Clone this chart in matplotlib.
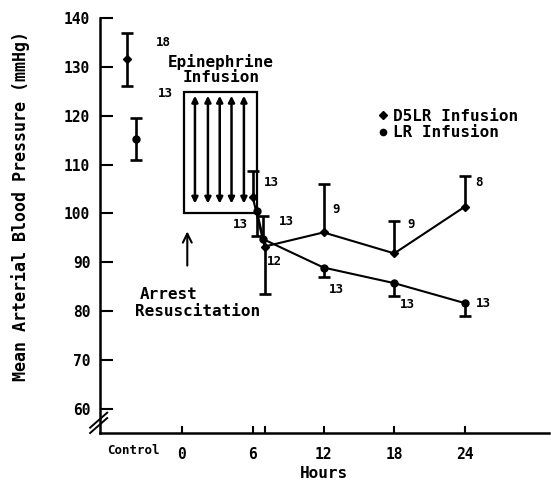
import matplotlib
matplotlib.use("Agg")
import matplotlib.pyplot as plt
import numpy as np
from matplotlib.patches import Rectangle
from matplotlib.lines import Line2D

plt.rcParams['font.family'] = ['DejaVu Sans Mono']
plt.rcParams['font.weight'] = 'bold'

# data
control_x = [-4.65, -3.9]
control_map = [131.6, 115.3]
control_lo = [5.5, 4.4]
control_hi = [5.3, 4.2]
control_n = ['18', '13']

d5_hours = [6, 7, 12, 18, 24]
d5_map = [103.3, 93.2, 96.1, 91.8, 101.4]
d5_lo = [0, 9.8, 0, 0, 0]
d5_hi = [5.3, 0, 9.9, 6.6, 6.2]
d5_n = ['13', '12', '9', '9', '8']

lr_hours = [6.35, 6.9, 12, 18, 24]
lr_map = [100.4, 94.7, 88.9, 85.7, 81.6]
lr_lo = [5.1, 0, 2.0, 2.7, 2.7]
lr_hi = [0, 4.7, 0, 0, 0]
lr_n = ['13', '13', '13', '13', '13']

# label offsets in pixels
ctrl_off = [(36, 17), (29, 45)]
d5_off = [(19, 15), (10, -15), (13, 23), (17, 29), (14, 24)]
lr_off = [(-17, -13), (23, 18), (13, -22), (13, -21), (18, 0)]

epi_arrows = [1.1, 2.2, 3.2, 4.2, 5.25]

fig = plt.figure(figsize=(5.51, 4.90), dpi=100)
ax = fig.add_axes([0.1815, 0.1163, 0.8145, 0.8467])


def bars(x, y, lo, hi):
    # error bars with a cap only at the far end
    x = np.asarray(x, float)
    y = np.asarray(y, float)
    lo = np.asarray(lo, float)
    hi = np.asarray(hi, float)
    ax.vlines(x, y - lo, y + hi, color='k', lw=1.9)
    ax.plot(x[lo > 0], (y - lo)[lo > 0], '_', color='k', ms=8, mew=1.9)
    ax.plot(x[hi > 0], (y + hi)[hi > 0], '_', color='k', ms=8, mew=1.9)


# control values
bars(control_x, control_map, control_lo, control_hi)
ax.plot(control_x[:1], control_map[:1], 'D', color='k', ms=4.5)
ax.plot(control_x[1:], control_map[1:], 'o', color='k', ms=5)

# series
bars(d5_hours, d5_map, d5_lo, d5_hi)
bars(lr_hours, lr_map, lr_lo, lr_hi)
ax.plot(d5_hours, d5_map, '-D', color='k', ms=4.5, lw=1.5)
ax.plot(lr_hours, lr_map, '-o', color='k', ms=5, lw=1.5)

# n labels
for x, y, n, off in zip(control_x, control_map, control_n, ctrl_off):
    ax.annotate(n, (x, y), xytext=off, textcoords='offset pixels',
                ha='center', va='center', fontsize=9)
for x, y, n, off in zip(d5_hours, d5_map, d5_n, d5_off):
    ax.annotate(n, (x, y), xytext=off, textcoords='offset pixels',
                ha='center', va='center', fontsize=9)
for x, y, n, off in zip(lr_hours, lr_map, lr_n, lr_off):
    ax.annotate(n, (x, y), xytext=off, textcoords='offset pixels',
                ha='center', va='center', fontsize=9)

# epinephrine box
ax.add_patch(Rectangle((0.15, 100), 6.2, 24.8, fill=False, lw=1.6, ec='k'))
for x in epi_arrows:
    ax.annotate('', xy=(x, 124.1), xytext=(x, 102.0),
                arrowprops=dict(arrowstyle='<|-|>', color='k', lw=1.8,
                                mutation_scale=9, shrinkA=0, shrinkB=0))
ax.text(3.3, 129.4, 'Epinephrine\nInfusion', ha='center', va='center',
        fontsize=11.5, linespacing=1.0)

# arrest arrow
ax.annotate('', xy=(0.45, 96.3), xytext=(0.45, 89.3),
            arrowprops=dict(arrowstyle='->', color='k', lw=1.5,
                            mutation_scale=16, shrinkA=0, shrinkB=0))
ax.text(-3.55, 83.3, 'Arrest', ha='left', va='center', fontsize=11.5)
ax.text(-4.0, 79.8, 'Resuscitation', ha='left', va='center', fontsize=11.5)

handles = [Line2D([], [], ls='none', marker='D', color='k', ms=4),
           Line2D([], [], ls='none', marker='o', color='k', ms=4.5)]
ax.legend(handles, ['D5LR Infusion', 'LR Infusion'], loc='upper left',
          bbox_to_anchor=(0.62, 0.782), frameon=False,
          handlelength=0.6, handletextpad=0.3, labelspacing=0.1,
          borderpad=0, borderaxespad=0,
          prop={'weight': 'bold', 'size': 11.5})

ax.set_xlim(-6.95, 31.1)
ax.set_ylim(55, 140)
ax.set_yticks([60, 70, 80, 90, 100, 110, 120, 130, 140])
ax.set_xticks([0, 6, 7, 12, 18, 24])
ax.set_xticklabels(['0', '6', '', '12', '18', '24'])
ax.tick_params(axis='y', direction='in', length=9, width=1.5, pad=7, labelsize=10.5)
ax.tick_params(axis='x', direction='in', length=5, width=1.5, pad=10, labelsize=10.5)

for s in ['top', 'right']:
    ax.spines[s].set_visible(False)
for s in ['left', 'bottom']:
    ax.spines[s].set_linewidth(1.8)

# axis break marks
for dy in [0.0, 0.013]:
    ax.plot([-0.022, 0.016], [0.0 + dy, 0.036 + dy], transform=ax.transAxes,
            color='k', lw=1.4, clip_on=False)

ax.text(-4.15, -0.041, 'Control', transform=ax.get_xaxis_transform(),
        ha='center', va='center', fontsize=9)
ax.set_xlabel('Hours', fontsize=11.5, fontweight='bold', labelpad=3)
ax.set_ylabel('Mean Arterial Blood Pressure (mmHg)', fontsize=12, fontweight='bold')
ax.yaxis.set_label_coords(-0.155, 0.547)

fig.savefig('out.png', dpi=100)
